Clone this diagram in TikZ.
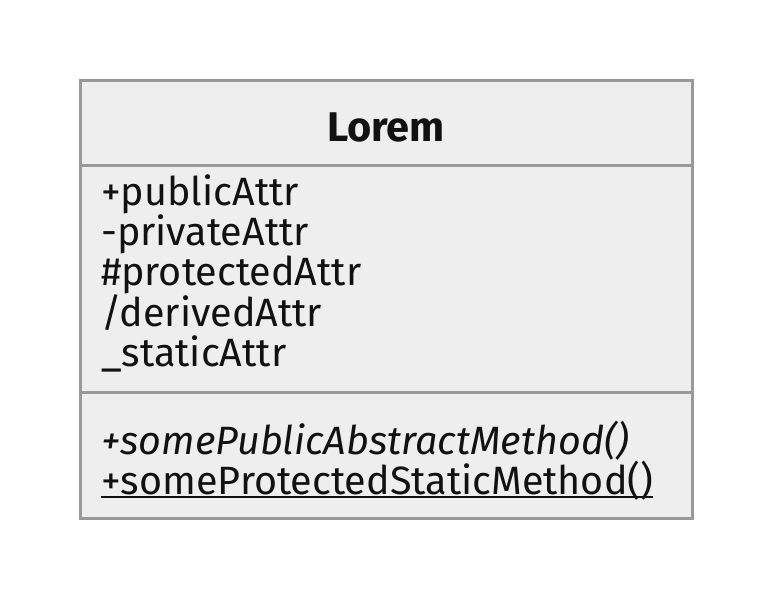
\documentclass[tikz,border=0pt]{standalone}
\usepackage{fontspec}
\setmainfont{Fira Sans}
\usetikzlibrary{positioning}
\definecolor{boxgray}{HTML}{999999}
\definecolor{boxfill}{HTML}{EEEEEE}
\definecolor{inkblack}{HTML}{111111}
\tikzset{
boxline/.style={draw=boxgray,line width=3pt},
titre/.style={anchor=base,inner sep=0pt,text=inkblack,font=\fontsize{41.5}{48}\selectfont\bfseries},
membre/.style={anchor=base west,inner sep=0pt,text=inkblack,font=\fontsize{39.5}{40}\selectfont}}

\begin{document}
\begin{tikzpicture}[x=1pt,y=-1pt]

\useasboundingbox (0,0) rectangle (772,598);

\draw[boxline,fill=boxfill] (80,80) rectangle (692,518);
\draw[boxline] (80,165) -- (692,165);
\draw[boxline] (80,392) -- (692,392);

\node[titre] (nom) at (386,141) {Lorem};

\node[membre] (a1) at (101,205) {+publicAttr};
\node[membre] (a2) at (101,245) {-privateAttr};
\node[membre] (a3) at (101,285) {\#protectedAttr};
\node[membre] (a4) at (101,326) {/derivedAttr};
\node[membre] (a5) at (101,366) {\_staticAttr};

\node[membre] (m1) at (101,454) {\itshape +somePublicAbstractMethod()};
\node[membre] (m2) at (101,494) {+someProtectedStaticMethod()};

\draw[inkblack,line width=2pt] ([yshift=-3pt]m2.base west) -- ([yshift=-3pt]m2.base east);

\end{tikzpicture}
\end{document}
